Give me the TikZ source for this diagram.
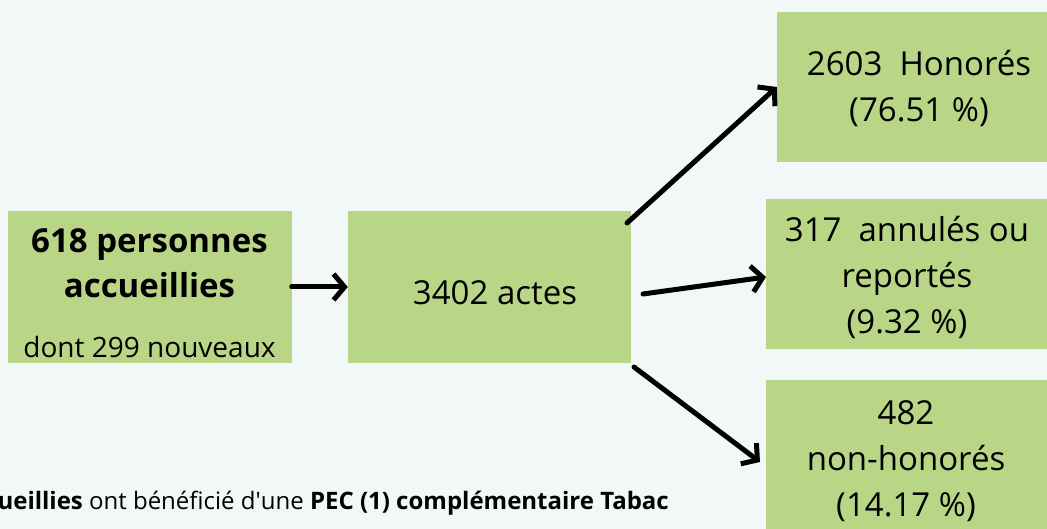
\documentclass[tikz,border=0pt]{standalone}
\usepackage{fontspec}
\setmainfont{Open Sans}
\usetikzlibrary{arrows.meta,calc}
\definecolor{bg}{RGB}{242,247,247}
\definecolor{boxgreen}{RGB}{185,214,135}
\tikzset{
  box/.style={fill=boxgreen, draw=none, inner sep=0pt},
  txt/.style={align=center, inner sep=0pt, font=\fontsize{33}{46}\selectfont, text=black},
  arr/.style={line width=5pt, line cap=round, line join=round, -{Straight Barb[length=11pt,width=26pt,line width=5pt]}},
}
\begin{document}
\begin{tikzpicture}[x=1pt,y=-1pt]
\useasboundingbox (0,0) rectangle (1047,529);
\clip (0,0) rectangle (1047,529);
\fill[bg] (0,0) rectangle (1047,529);
% boxes
\node[box, minimum width=284pt, minimum height=152pt] (b1) at (149.5,287) {};
\node[box, minimum width=283pt, minimum height=152pt] (b2) at (489.5,287) {};
\node[box, minimum width=280pt, minimum height=150pt] (b3) at (917,87) {};
\node[box, minimum width=281pt, minimum height=150pt] (b4) at (906.5,274) {};
\node[box, minimum width=281pt, minimum height=170pt] (b5) at (906.5,465) {};
% texts
\node[txt, font=\fontsize{33}{45}\bfseries\selectfont] (t1) at (149.5,263) {618 personnes\\accueillies};
\node[txt, font=\fontsize{28}{32}\selectfont] (t1b) at (149.5,347) {dont 299 nouveaux};
\node[txt] (t2) at (495,293) {3402 actes};
\node[txt] (t3) at (919,88) {2603\ \ Honorés\\(76.51 \%)};
\node[txt] (t4) at (907,277) {317\ \ annulés ou\\reportés\\(9.32 \%)};
\node[txt] (t5) at (906,461) {482\\non-honorés\\(14.17 \%)};
\node[anchor=base east, inner sep=0pt, font=\fontsize{24}{28}\selectfont] (note) at (669,509)
  {\textbf{ueillies} ont bénéficié d\textquotesingle une \textbf{PEC (1) complémentaire Tabac}};
% connectors
\coordinate (s2) at (627,223);
\coordinate (s3) at (643,294);
\coordinate (s4) at (634,367);
\coordinate (e4) at (760,462);
\draw[arr] (b1.east) -- (b2.west);
\draw[arr] (s2) -- (b3.west);
\draw[arr] (s3) -- (766,277);
\draw[arr] (s4) -- (e4);
\end{tikzpicture}
\end{document}
